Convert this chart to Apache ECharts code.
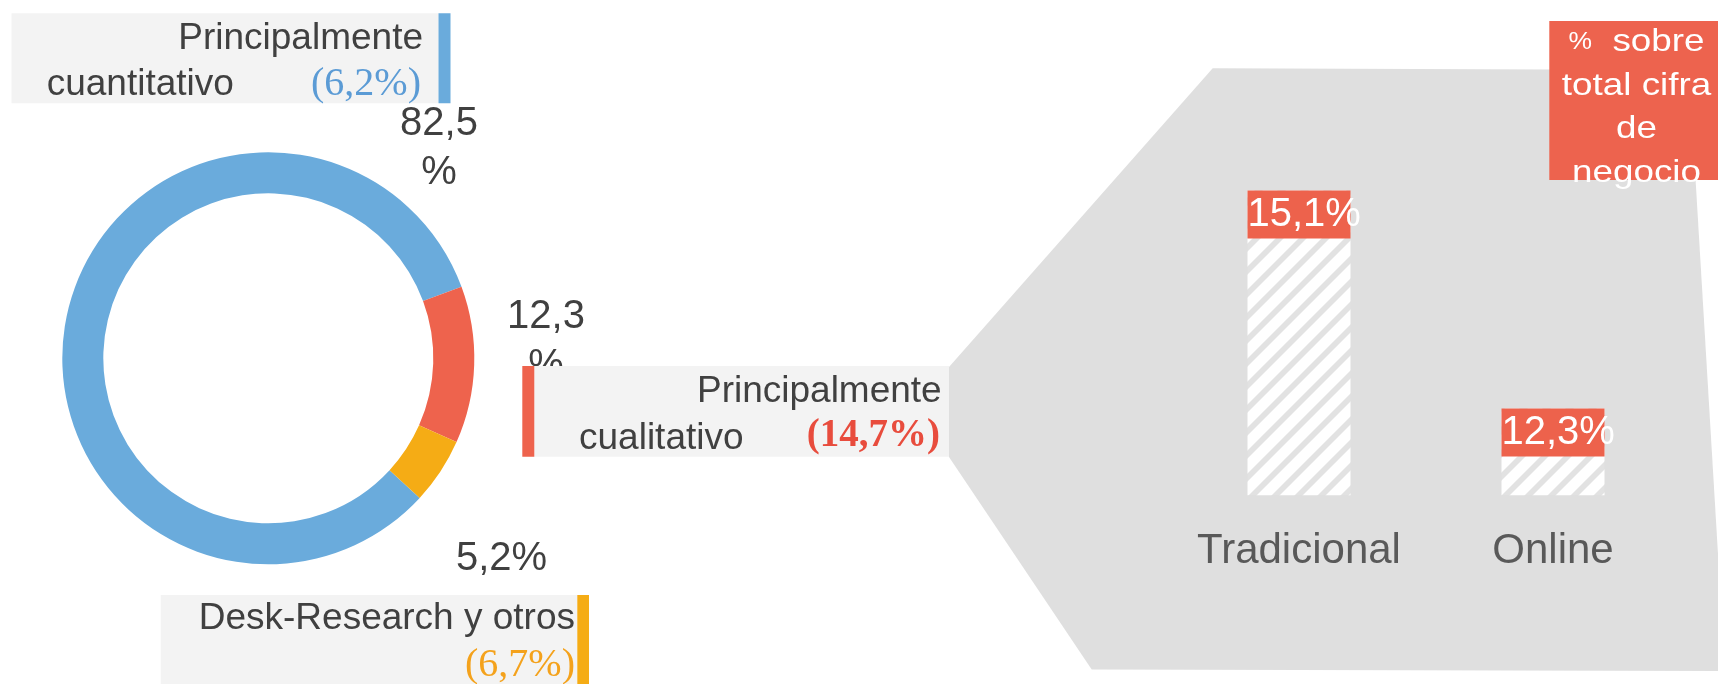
<!DOCTYPE html>
<html>
<head>
<meta charset="utf-8">
<title>Metodología</title>
<script src="https://cdn.jsdelivr.net/npm/echarts@6/dist/echarts.min.js"></script>
<style>
	html, body { margin: 0; padding: 0; background: #fff; }
	#main { width: 1718px; height: 684px; }
</style>
</head>
<body>
<div id="main"></div>
<script>
	/*---------- datos ----------*/
	var segmentos = ['Principalmente\ncuantitativo', 'Principalmente\ncualitativo', 'Desk-Research y otros'];
	var cuota = [82.5, 12.3, 5.2];        // anillo
	var variacion = [6.2, 14.7, 6.7];     // entre paréntesis
	var canales = ['Tradicional', 'Online'];
	var volumen = [76.2, 21.7];           // altura de las barras
	var pctCifra = [15.1, 12.3];          // % sobre total cifra de negocio
	var tituloCifra = '% sobre total cifra de negocio';
	/*---------------------------*/

	var colores = ['#6aabdc', '#ee634d', '#f5ac15'];
	var coloresTexto = ['#5b9bd5', '#e84c3d', '#f4a21c'];
	var gris = '#404040';
	var sans = 'Liberation Sans, Arial, sans-serif';
	var serif = 'Liberation Serif, Times New Roman, serif';
	var kSans = 0.27;    // distancia centro -> baseline (em)
	var kSerif = 0.27;

	// posiciones de las etiquetas del anillo (centro del bloque)
	var posEtiquetas = [[439, 148.8], [546, 341.8], [501.5, 559.3]];

	// cajas de leyenda: fondo, barra de color, líneas de texto (baseline)
	var cajas = [
		{ fondo: [11.5, 13.3, 427, 90], barra: [438.5, 13.3, 12, 90],
		  l1: [423, 48.3], l2: [46.7, 95], pct: [421, 95], negrita: false },
		{ fondo: [534.3, 366, 414.7, 90.7], barra: [522.3, 366, 12, 90.7],
		  l1: [941.7, 401.7], l2: [579, 448.3], pct: [940, 446.7], negrita: true },
		{ fondo: [160.7, 595, 416.6, 95], barra: [577.3, 595, 11.7, 95],
		  l1: [575, 628.3], l2: null, pct: [575, 676.7], negrita: false }
	];

	var fondoZoom = [[949, 367], [1212.7, 68.3], [1689, 70], [1725, 671], [1091.7, 669.5], [949, 457]];

	function fmt(v) {
		return v.toFixed(1).replace('.', ',') + '%';
	}

	// rayado diagonal de las barras
	function rayado() {
		var s = 23;
		var c = document.createElement('canvas');
		c.width = s;
		c.height = s;
		var ctx = c.getContext('2d');
		ctx.fillStyle = '#ffffff';
		ctx.fillRect(0, 0, s, s);
		ctx.strokeStyle = '#e2e2e2';
		ctx.lineWidth = 5.7;
		ctx.beginPath();
		ctx.moveTo(-4, s + 4); ctx.lineTo(s + 4, -4);
		ctx.moveTo(-4, 4); ctx.lineTo(4, -4);
		ctx.moveTo(s - 4, s + 4); ctx.lineTo(s + 4, s - 4);
		ctx.stroke();
		return c;
	}

	/*---------- elementos gráficos ----------*/
	var graficos = [];
	graficos.push({
		type: 'polygon', z: 0, silent: true,
		shape: { points: fondoZoom },
		style: { fill: '#dfdfdf' }
	});

	for (var i = 0; i < cajas.length; i++) {
		var c = cajas[i];
		var lineas = segmentos[i].split('\n');
		graficos.push({
			type: 'rect', z: 10, silent: true,
			shape: { x: c.fondo[0], y: c.fondo[1], width: c.fondo[2], height: c.fondo[3] },
			style: { fill: '#f3f3f3' }
		});
		graficos.push({
			type: 'rect', z: 10, silent: true,
			shape: { x: c.barra[0], y: c.barra[1], width: c.barra[2], height: c.barra[3] },
			style: { fill: colores[i] }
		});
		graficos.push({
			type: 'text', z: 11, silent: true,
			x: c.l1[0], y: c.l1[1] - kSans * 37,
			style: { text: lineas[0], fill: gris, fontSize: 37, fontFamily: sans, align: 'right', verticalAlign: 'middle' }
		});
		if (c.l2 && lineas[1]) {
			graficos.push({
				type: 'text', z: 11, silent: true,
				x: c.l2[0], y: c.l2[1] - kSans * 37,
				style: { text: lineas[1], fill: gris, fontSize: 37, fontFamily: sans, align: 'left', verticalAlign: 'middle' }
			});
		}
		var fs = c.negrita ? 39 : 40;
		graficos.push({
			type: 'text', z: 11, silent: true,
			x: c.pct[0], y: c.pct[1] - kSerif * fs,
			style: {
				text: '(' + fmt(variacion[i]) + ')', fill: coloresTexto[i],
				fontSize: fs, fontFamily: serif, fontWeight: c.negrita ? 'bold' : 'normal',
				align: 'right', verticalAlign: 'middle'
			}
		});
	}

	// recuadro rojo "% sobre total cifra de negocio"
	var partes = tituloCifra.split(' ');
	graficos.push({
		type: 'rect', z: 10, silent: true,
		shape: { x: 1549.3, y: 21, width: 170, height: 159 },
		style: { fill: '#ed634e' }
	});
	graficos.push({
		type: 'text', z: 11, silent: true,
		x: 1636.5, y: 20.5, scaleX: 1.15,
		style: {
			text: '{p|' + partes[0] + '}  ' + partes[1] + '\n' + partes[2] + ' ' + partes[3] + '\n' + partes[4] + '\n' + partes[5],
			fill: '#ffffff', fontSize: 32, fontFamily: sans, lineHeight: 43.6,
			align: 'center', verticalAlign: 'top',
			rich: { p: { fontSize: 23, fill: '#ffffff', fontFamily: sans, lineHeight: 43.6 } }
		}
	});
	/*----------------------------------------*/

	var myChart = echarts.init(document.getElementById('main'));
	myChart.setOption({
		animation: false,
		textStyle: { fontFamily: sans },
		graphic: { elements: graficos },
		grid: {
			left: 1172, top: 95.3, width: 508, height: 400,
			containLabel: false, outerBoundsMode: 'none'
		},
		xAxis: {
			type: 'category',
			data: canales,
			axisLine: { show: false },
			axisTick: { show: false },
			splitLine: { show: false },
			axisLabel: { interval: 0, fontSize: 42, lineHeight: 42, color: '#595959', margin: 35, fontFamily: sans }
		},
		yAxis: { type: 'value', min: 0, max: 100, show: false },
		series: [
			{
				type: 'pie',
				center: [268.3, 358.3],
				radius: [165, 206],
				startAngle: 317.3,
				clockwise: true,
				avoidLabelOverlap: false,
				silent: true,
				itemStyle: { borderWidth: 0 },
				label: {
					show: true,
					position: 'inside',
					formatter: function(p) { return fmt(p.value); },
					fontSize: 40,
					lineHeight: 49,
					color: gris,
					fontFamily: sans,
					width: 100,
					overflow: 'breakAll',
					align: 'center'
				},
				labelLine: { show: false },
				labelLayout: function(p) {
					var a = posEtiquetas[p.dataIndex];
					return { x: a[0], y: a[1], align: 'center', verticalAlign: 'middle' };
				},
				data: cuota.map(function(v, i) {
					return { name: segmentos[i], value: v, itemStyle: { color: colores[i] } };
				})
			},
			{
				type: 'bar',
				data: volumen,
				barWidth: 103,
				silent: true,
				itemStyle: { color: { image: rayado(), repeat: 'repeat' } },
				label: {
					show: true,
					position: 'insideTop',
					distance: 0,
					offset: [-51.5, 0],
					formatter: function(p) { return fmt(pctCifra[p.dataIndex]); },
					width: 103,
					height: 48,
					lineHeight: 48,
					align: 'left',
					verticalAlign: 'top',
					backgroundColor: '#ed624c',
					color: '#ffffff',
					fontSize: 40,
					fontFamily: sans
				}
			}
		]
	});
</script>
</body>
</html>
